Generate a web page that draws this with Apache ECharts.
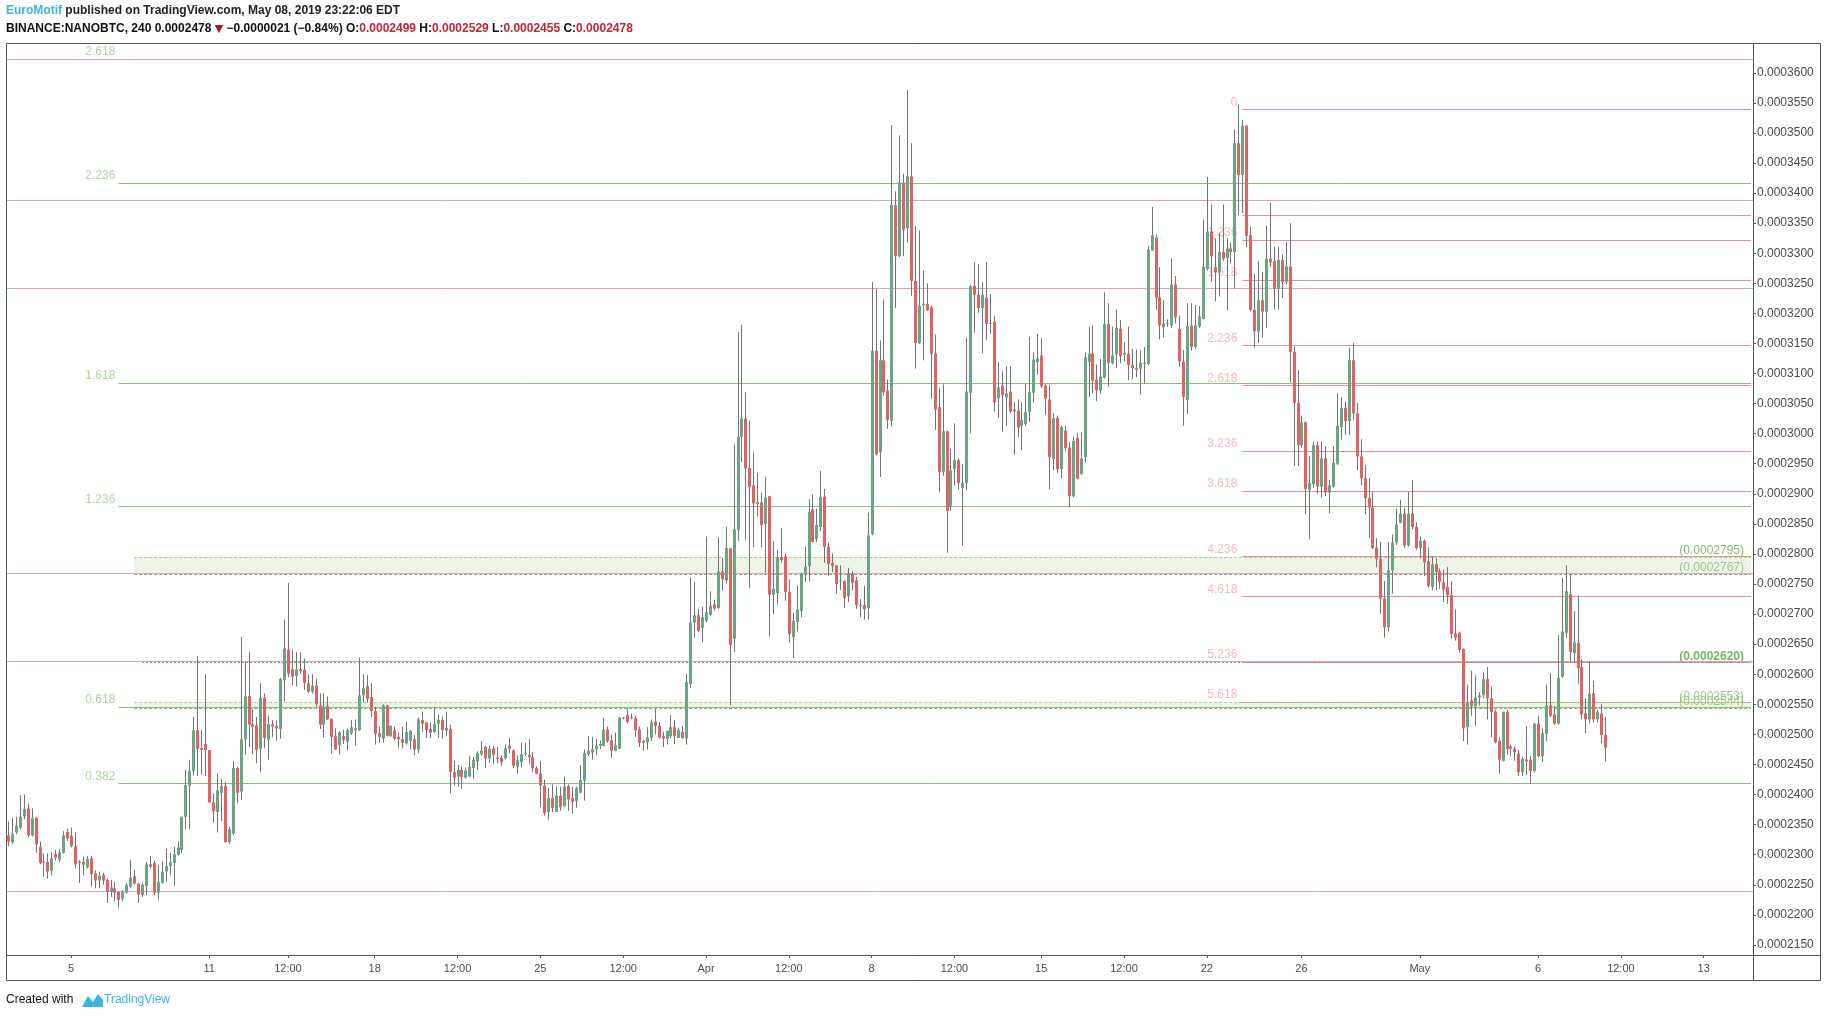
<!DOCTYPE html>
<html>
<head>
<meta charset="utf-8">
<title>BINANCE:NANOBTC, 240</title>
<script src="https://cdn.jsdelivr.net/npm/echarts@6/dist/echarts.min.js"></script>
<style>
  html, body { margin: 0; padding: 0; background: #fff; }
  #chart { width: 1828px; height: 1018px; }
</style>
</head>
<body>
<div id="chart"></div>
<script>
// 价格单位: 1e-7 BTC (2478 = 0.0002478)
// 每根K线: [open, high, low, close], 4小时
const ohlc = [
  [2332,2355,2314,2322],[2320,2361,2318,2335],[2337,2363,2334,2348],[2345,2399,2342,2363],[2364,2400,2359,2376],[2377,2385,2329,2332],
  [2332,2377,2330,2361],[2361,2363,2303,2317],[2313,2322,2284,2286],[2289,2302,2263,2287],[2288,2302,2260,2272],[2273,2304,2266,2294],
  [2301,2308,2290,2295],[2292,2309,2288,2304],[2303,2339,2302,2332],[2338,2343,2323,2327],[2331,2345,2312,2314],[2314,2338,2277,2284],
  [2287,2291,2253,2288],[2288,2297,2266,2283],[2279,2298,2277,2293],[2294,2298,2247,2268],[2269,2274,2244,2257],[2257,2272,2244,2265],
  [2266,2270,2250,2257],[2258,2261,2220,2238],[2238,2258,2230,2246],[2244,2255,2222,2237],[2238,2239,2212,2225],[2227,2241,2222,2238],
  [2237,2253,2235,2250],[2247,2291,2244,2262],[2264,2274,2250,2252],[2252,2253,2220,2234],[2233,2253,2230,2250],[2248,2288,2233,2284],
  [2284,2298,2277,2280],[2286,2290,2233,2237],[2237,2283,2225,2254],[2253,2289,2252,2272],[2272,2310,2255,2281],[2281,2303,2266,2287],
  [2286,2313,2248,2301],[2300,2322,2298,2312],[2308,2363,2303,2363],[2363,2441,2343,2416],[2415,2457,2343,2439],[2439,2529,2432,2507],
  [2507,2630,2431,2476],[2477,2507,2433,2474],[2484,2600,2431,2474],[2474,2474,2386,2387],[2387,2402,2353,2372],[2371,2435,2337,2407],
  [2403,2426,2356,2414],[2414,2421,2320,2321],[2321,2346,2318,2342],[2335,2456,2332,2444],[2444,2446,2386,2403],[2405,2662,2391,2492],
  [2492,2621,2466,2563],[2564,2637,2479,2516],[2517,2542,2467,2513],[2515,2529,2452,2474],[2476,2585,2437,2561],[2561,2568,2477,2494],
  [2491,2531,2458,2517],[2517,2524,2495,2513],[2514,2523,2490,2510],[2509,2594,2493,2592],[2590,2691,2555,2643],[2641,2752,2595,2601],
  [2608,2641,2582,2596],[2597,2637,2580,2608],[2608,2636,2601,2605],[2607,2626,2574,2586],[2585,2600,2569,2571],[2571,2600,2568,2581],
  [2581,2592,2546,2550],[2548,2568,2509,2516],[2516,2568,2495,2546],[2547,2563,2524,2525],[2526,2526,2468,2496],[2497,2510,2474,2475],
  [2482,2506,2466,2503],[2497,2508,2484,2491],[2488,2510,2473,2507],[2502,2524,2499,2512],[2510,2525,2481,2507],[2507,2628,2506,2565],
  [2565,2600,2553,2577],[2580,2598,2553,2559],[2562,2585,2529,2539],[2539,2546,2483,2501],[2502,2513,2486,2496],[2493,2550,2486,2548],
  [2548,2549,2496,2498],[2497,2515,2496,2514],[2507,2513,2490,2493],[2496,2503,2478,2492],
  [2492,2512,2477,2486],[2485,2521,2483,2504],[2489,2507,2475,2506],[2492,2499,2465,2475],[2475,2528,2469,2525],[2524,2538,2504,2518],
  [2520,2520,2494,2507],[2509,2520,2494,2503],[2504,2545,2502,2517],[2518,2533,2494,2524],[2524,2530,2493,2507],[2506,2538,2497,2511],
  [2509,2516,2402,2438],[2437,2456,2415,2428],[2430,2449,2413,2441],[2441,2447,2410,2429],[2428,2445,2427,2440],[2430,2464,2429,2446],
  [2444,2462,2426,2458],[2455,2472,2441,2469],[2467,2489,2464,2473],[2479,2481,2444,2460],[2460,2481,2453,2476],[2477,2481,2451,2466],
  [2461,2479,2452,2459],[2461,2465,2448,2454],[2460,2483,2458,2477],[2481,2494,2469,2476],[2473,2475,2444,2448],[2446,2465,2435,2457],
  [2454,2486,2445,2467],[2468,2486,2464,2469],[2466,2492,2451,2462],[2462,2470,2437,2444],[2444,2447,2434,2435],[2435,2456,2379,2415],
  [2415,2425,2365,2369],[2371,2411,2358,2394],[2394,2417,2371,2378],[2371,2413,2371,2398],[2398,2413,2373,2379],[2381,2430,2379,2413],
  [2414,2417,2373,2392],[2394,2413,2368,2388],[2389,2413,2378,2411],[2403,2449,2402,2424],[2423,2475,2390,2469],[2467,2497,2464,2473],
  [2470,2496,2458,2476],[2476,2492,2465,2481],[2481,2490,2476,2484],[2481,2527,2480,2508],[2508,2513,2486,2489],[2490,2500,2461,2473],
  [2473,2503,2472,2482],[2476,2529,2476,2528],[2527,2529,2525,2528],[2532,2543,2518,2521],[2527,2535,2525,2528],[2527,2531,2496,2507],
  [2508,2513,2479,2486],[2486,2491,2473,2489],[2487,2512,2475,2495],[2494,2525,2489,2520],[2521,2542,2500,2514],[2514,2520,2493,2495],
  [2497,2504,2479,2493],[2492,2506,2483,2506],[2497,2532,2494,2512],[2512,2524,2484,2497],[2494,2511,2494,2507],[2504,2514,2493,2494],
  [2493,2601,2483,2587],[2584,2761,2577,2686],[2686,2754,2661,2698],[2698,2709,2670,2672],[2677,2712,2653,2695],[2689,2829,2686,2703],
  [2699,2738,2697,2714],[2716,2724,2706,2709],[2710,2828,2709,2771],[2771,2793,2739,2758],[2756,2845,2751,2810],[2809,2810,2548,2649],
  [2659,2982,2637,2841],[2840,3169,2822,2995],[2995,3181,2953,3025],[3025,3069,2823,2942],[2943,3022,2743,2911],[2914,2969,2811,2884],
  [2883,2935,2862,2886],[2886,2902,2811,2848],[2850,2928,2769,2894],[2896,2896,2663,2732],[2732,2821,2700,2742],[2735,2806,2716,2795],
  [2795,2843,2786,2790],[2796,2801,2722,2737],[2737,2758,2653,2667],
  [2662,2702,2627,2689],[2687,2748,2671,2708],[2705,2769,2695,2767],[2767,2812,2754,2779],[2780,2891,2755,2870],[2874,2899,2819,2820],
  [2825,2875,2820,2848],[2845,2938,2838,2895],[2895,2908,2785,2812],[2812,2819,2764,2783],[2785,2801,2770,2780],[2781,2781,2734,2750],
  [2755,2781,2740,2756],[2755,2756,2710,2727],[2730,2777,2720,2767],[2767,2771,2739,2752],[2756,2762,2709,2715],[2715,2725,2695,2713],
  [2715,2747,2691,2708],[2710,2869,2691,2831],
  [2833,3252,2831,3138],[3138,3240,2964,2966],[2969,3155,2928,3122],[3122,3223,3063,3069],[3072,3090,3008,3023],[3021,3513,3012,3380],
  [3380,3403,3209,3295],[3295,3496,3293,3418],[3417,3432,3295,3339],[3342,3571,3318,3428],[3428,3483,3229,3254],[3254,3345,3108,3151],
  [3151,3338,3149,3213],[3214,3271,3122,3216],[3216,3250,3204,3205],[3210,3213,3058,3133],[3133,3165,3006,3040],[3044,3076,2903,2936],
  [2936,3082,2930,3004],[3004,3005,2802,2872],[2878,2975,2872,2939],[2941,3017,2914,2956],[2956,2959,2907,2918],[2910,2950,2814,2918],
  [2918,3160,2907,3070],[3068,3248,3001,3245],[3246,3285,3168,3231],[3231,3282,3201,3209],[3209,3252,3134,3231],[3226,3285,3156,3183],
  [3183,3232,3166,3184],[3186,3196,3037,3052],[3059,3119,3026,3077],[3080,3104,3003,3064],[3060,3112,3013,3067],[3070,3112,3034,3037],
  [3040,3052,2965,3037],[3038,3057,2994,3010],[3013,3052,2973,3023],[3016,3083,3013,3036],[3036,3161,3020,3069],[3068,3135,3052,3123],
  [3119,3166,3098,3125],[3130,3159,3076,3079],[3080,3082,3031,3058],[3057,3081,2908,2961],[2958,3034,2939,3026],[3026,3030,2935,2941],
  [2941,3014,2926,3011],[3005,3013,2971,2976],[2977,2986,2878,2896],[2896,2995,2894,2988],[2993,3001,2924,2925],[2933,3002,2932,2959],
  [2961,3135,2952,3127],[3119,3178,3061,3133],[3133,3180,3067,3088],[3090,3115,3054,3072],[3072,3124,3066,3095],[3093,3235,3092,3182],
  [3182,3217,3078,3118],[3117,3178,3115,3130],[3132,3207,3109,3176],[3174,3189,3117,3129],[3132,3152,3120,3134],[3133,3178,3089,3114],
  [3114,3141,3091,3109],[3109,3140,3094,3106],[3108,3139,3065,3118],[3118,3144,3083,3117],[3116,3312,3114,3306],[3305,3377,3304,3330],
  [3326,3331,3206,3226],
  [3227,3277,3157,3180],[3177,3222,3160,3183],[3183,3190,3178,3184],[3180,3291,3176,3248],[3248,3262,3183,3193],[3174,3196,3111,3120],
  [3120,3139,3013,3061],[3056,3217,3033,3179],[3180,3217,3138,3144],[3144,3214,3141,3180],[3178,3212,3176,3195],[3191,3356,3190,3278],
  [3274,3427,3271,3336],[3336,3381,3252,3295],[3277,3325,3220,3268],[3268,3334,3228,3302],[3302,3381,3287,3291],[3292,3325,3205,3308],
  [3308,3317,3283,3302],[3302,3506,3241,3483],[3483,3547,3363,3430],[3430,3522,3367,3512],[3512,3513,3310,3329],[3330,3344,3203,3206],
  [3206,3266,3143,3170],[3170,3287,3151,3222],[3222,3269,3160,3203],[3203,3346,3176,3291],[3291,3384,3277,3285],[3287,3311,3206,3241],
  [3241,3310,3206,3289],[3289,3298,3226,3252],[3252,3319,3248,3278],[3278,3350,3085,3136],[3136,3145,2946,3051],[3051,3105,2946,2981],
  [2981,3030,2977,3019],[3019,3020,2866,2908],[2906,2963,2824,2918],[2916,2987,2910,2981],[2981,2987,2900,2912],[2912,2987,2894,2959],
  [2959,2979,2896,2902],[2902,2923,2868,2914],[2912,2979,2910,2952],[2950,3067,2948,3013],[3011,3061,2990,3043],[3043,3053,2998,3021],
  [3021,3143,2998,3122],[3122,3151,3023,3034],[3034,3051,2939,2962],[2962,2991,2914,2926],[2926,2948,2866,2893],[2893,2926,2826,2877],
  [2877,2903,2808,2810],[2810,2826,2778,2792],[2792,2820,2701,2726],[2726,2755,2661,2678],[2678,2820,2671,2773],[2773,2832,2734,2819],
  [2819,2875,2815,2849],[2852,2890,2851,2867],[2867,2877,2810,2814],[2814,2903,2812,2867],[2867,2923,2841,2845],[2845,2853,2807,2810],
  [2810,2829,2793,2822],[2822,2824,2763,2786],[2788,2811,2744,2747],[2745,2796,2740,2783],[2783,2793,2740,2770],[2771,2776,2742,2753],
  [2753,2774,2720,2741],[2745,2778,2717,2731],[2732,2755,2659,2667],[2668,2708,2656,2661],[2669,2671,2636,2640],[2642,2643,2489,2510],
  [2512,2583,2483,2554],[2556,2606,2531,2547],[2547,2598,2514,2561],[2561,2570,2548,2565],[2565,2603,2560,2592],[2592,2612,2525,2560],
  [2560,2579,2495,2537],[2538,2541,2485,2487],[2489,2495,2435,2458],[2456,2538,2455,2537],[2537,2541,2466,2476],[2480,2483,2464,2476],
  [2476,2480,2456,2470],[2468,2474,2431,2437],[2437,2463,2431,2459],[2458,2514,2433,2455],[2458,2464,2418,2439],[2439,2519,2437,2518],
  [2518,2531,2462,2464],[2464,2510,2454,2502],[2501,2583,2489,2548],[2548,2602,2529,2531],[2533,2547,2516,2518],[2518,2665,2516,2594],
  [2596,2760,2594,2671],[2669,2781,2660,2738],[2733,2767,2621,2637],[2635,2705,2621,2653],[2652,2731,2584,2610],[2612,2625,2525,2533],
  [2535,2560,2502,2525],[2525,2621,2518,2568],[2568,2589,2520,2525],[2525,2541,2520,2537],[2535,2551,2485,2499],[2499,2529,2455,2478]
];

// 时间轴刻度: [K线序号, 文字]
const xTicks = [
  [16, '5'], [51, '11'], [71, '12:00'], [93, '18'], [114, '12:00'], [135, '25'], [156, '12:00'],
  [177, 'Apr'], [198, '12:00'], [219, '8'], [240, '12:00'], [262, '15'], [283, '12:00'], [304, '22'],
  [328, '26'], [358, 'May'], [388, '6'], [409, '12:00'], [430, '13']
];

// 价格轴刻度
const priceTicks = [
  2150, 2200, 2250, 2300, 2350, 2400, 2450, 2500, 2550, 2600, 2650, 2700, 2750, 2800, 2850,
  2900, 2950, 3000, 3050, 3100, 3150, 3200, 3250, 3300, 3350, 3400, 3450, 3500, 3550, 3600
];

// 左侧斐波那契扩展 (绿色)
const fibGreen = [
  ['0.382', 2418.5], ['0.618', 2545.6], ['1.236', 2878.5],
  ['1.618', 3084.3], ['2.236', 3417.2], ['2.618', 3623.0]
];
// 右侧斐波那契扩展 (红色)
const fibRed = [
  ['0', 3539], ['1', 3363.6], ['1.236', 3322.2], ['1.618', 3255.2], ['2.236', 3146.8], ['2.618', 3079.8],
  ['3.236', 2971.4], ['3.618', 2904.4], ['4.236', 2796.0], ['4.618', 2729.0], ['5.236', 2620.6], ['5.618', 2553.6]
];
// 水平线 (粉色, 全宽)
const pinkLevels = [3623.3, 3387.3, 3241.1, 2767.5, 2622.3, 2239.6];
// 区间 [上, 下]
const zones = [[2795, 2767], [2553, 2544]];
const rayLevel = 2620;
// 右侧价格标签
const priceTags = [
  [2795, '(0.0002795)'], [2767, '(0.0002767)'], [2620, '(0.0002620)'],
  [2553, '(0.0002553)'], [2544, '(0.0002544)']
];

const NBARS = 443;
const t0 = Date.UTC(2019, 2, 2, 8);
const cats = [];
for (let i = 0; i < NBARS; i++) {
  cats.push(new Date(t0 + i * 4 * 3600e3).toISOString().slice(0, 16).replace('T', ' '));
}
const last = cats[NBARS - 1];
const greenStart = cats[28];
const redStart = cats[313];
const zoneStart = cats[32];
const rayStart = cats[34];

const UP = '#6ba583';
const DOWN = '#e06262';
const WICK = '#737375';
const GREEN_LINE = '#8cc078';
const GREEN_TEXT = '#9acb85';
const PINK_LINE = '#d9a2c4';
const RED_LINE = '#ec8e8e';
const RED_TEXT = '#f2a8a8';

const tickMap = {};
xTicks.forEach(([i, t]) => { tickMap[i] = t; });
const isTick = (idx) => tickMap[idx] !== undefined;

const rows = ohlc.map((r, i) => [i, r[0], r[1], r[2], r[3]]);

// 标记线: 先画斐波那契, 再画粉色水平线, 最后画区间边线
const lines = [];
fibGreen.forEach(([, v]) => lines.push([
  { coord: [greenStart, v], lineStyle: { color: GREEN_LINE, width: 1, type: 'solid' } },
  { coord: [last, v] }
]));
fibRed.forEach(([, v]) => lines.push([
  { coord: [redStart, v], lineStyle: { color: RED_LINE, width: 1, type: 'solid' } },
  { coord: [last, v] }
]));
pinkLevels.forEach(v => lines.push({ yAxis: v, lineStyle: { color: PINK_LINE, width: 1, type: 'solid' } }));
lines.push([
  { coord: [zoneStart, zones[0][0]], lineStyle: { color: '#a7cf90', width: 1, type: [3, 2] } },
  { coord: [last, zones[0][0]] }
]);
lines.push([
  { coord: [zoneStart, zones[0][1]], lineStyle: { color: '#9b9a86', width: 1, type: [3, 2] } },
  { coord: [last, zones[0][1]] }
]);
lines.push([
  { coord: [rayStart, rayLevel], lineStyle: { color: '#8c9a80', width: 1, type: [2, 2] } },
  { coord: [last, rayLevel] }
]);
lines.push([
  { coord: [zoneStart, zones[1][0]], lineStyle: { color: '#a7cf90', width: 1, type: [3, 2] } },
  { coord: [last, zones[1][0]] }
]);
lines.push([
  { coord: [zoneStart, zones[1][1]], lineStyle: { color: '#7fb86a', width: 1, type: [3, 2] } },
  { coord: [last, zones[1][1]] }
]);

const areas = zones.map(([top, bottom]) => [
  { coord: [zoneStart, top], itemStyle: { color: 'rgba(225,238,216,0.6)' } },
  { coord: [last, bottom] }
]);

// 文字标签
const labelData = [];
fibGreen.forEach(([t, v]) => labelData.push({
  value: [greenStart, v],
  label: { formatter: t, color: GREEN_TEXT, position: 'left', distance: 3, offset: [0, -7] }
}));
fibRed.forEach(([t, v]) => labelData.push({
  value: [redStart, v],
  label: { formatter: t, color: RED_TEXT, position: 'left', distance: 5, offset: [0, -7] }
}));
priceTags.forEach(([v, t], k) => labelData.push({
  value: [last, v],
  label: {
    formatter: t, position: 'left', distance: 7, offset: [0, -6], fontSize: 12,
    fontWeight: k === 2 ? 'bold' : 'normal',
    color: k === 2 ? '#55a040' : (k === 0 ? '#64a84a' : '#82bd6c')
  }
}));

const chart = echarts.init(document.getElementById('chart'));

const option = {
  animation: false,
  backgroundColor: '#ffffff',
  textStyle: { fontFamily: 'Liberation Sans' },
  title: [
    {
      left: 6, top: 5, padding: 0,
      text: '{a|EuroMotif}{b| published on TradingView.com, May 08, 2019 23:22:06 EDT}',
      textStyle: {
        rich: {
          a: { color: '#3bb3e4', fontSize: 12, fontFamily: 'Liberation Sans' },
          b: { color: '#222', fontSize: 12, fontFamily: 'Liberation Sans' }
        }
      }
    },
    {
      left: 6, top: 23, padding: 0,
      text: '{b|BINANCE:NANOBTC, 240}{n| 0.0002478 }{t|▼}{n| −0.0000021 (−0.84%) }{b|O:}{r|0.0002499}{b| H:}{r|0.0002529}{b| L:}{r|0.0002455}{b| C:}{r|0.0002478}',
      textStyle: {
        rich: {
          b: { color: '#111', fontSize: 12, fontWeight: 'bold', fontFamily: 'Liberation Sans' },
          n: { color: '#111', fontSize: 12, fontFamily: 'Liberation Sans' },
          r: { color: '#c62631', fontSize: 12, fontFamily: 'Liberation Sans' },
          t: { color: '#a8171f', fontSize: 11, fontFamily: 'DejaVu Sans' }
        }
      }
    },
    {
      left: 6, top: 994, padding: 0,
      text: 'Created with',
      textStyle: { color: '#111', fontSize: 12, fontWeight: 'normal', fontFamily: 'Liberation Sans' }
    },
    {
      left: 104, top: 994, padding: 0,
      text: 'TradingView',
      textStyle: { color: '#3bb3e4', fontSize: 12, fontWeight: 'normal', fontFamily: 'Liberation Sans' }
    }
  ],
  grid: { left: 6, right: 75, top: 44, bottom: 63 },
  xAxis: {
    type: 'category',
    data: cats,
    boundaryGap: true,
    axisLine: { show: false },
    axisTick: {
      show: true, interval: isTick, alignWithLabel: true, length: 3,
      lineStyle: { color: '#555' }
    },
    axisLabel: {
      interval: isTick,
      formatter: (val, idx) => tickMap[idx] || '',
      margin: 8, color: '#4a4a4a', fontSize: 11, fontFamily: 'Liberation Sans'
    },
    splitLine: { show: false }
  },
  yAxis: {
    type: 'value',
    position: 'right',
    min: 2133.2,
    max: 3647.9,
    scale: true,
    axisLine: { show: false },
    axisTick: {
      show: true, length: 3, customValues: priceTicks,
      lineStyle: { color: '#555' }
    },
    axisLabel: {
      customValues: priceTicks,
      formatter: v => (v / 1e7).toFixed(7),
      margin: 4, color: '#4a4a4a', fontSize: 12, fontFamily: 'Liberation Sans'
    },
    splitLine: { show: false }
  },
  series: [
    {
      name: 'drawings',
      type: 'scatter',
      z: 1,
      silent: true,
      symbolSize: 0,
      data: labelData,
      label: { show: true, fontSize: 12, fontFamily: 'Liberation Sans' },
      emphasis: { disabled: true },
      markArea: { silent: true, data: areas },
      markLine: {
        silent: true,
        symbol: ['none', 'none'],
        label: { show: false },
        emphasis: { disabled: true },
        data: lines
      }
    },
    {
      name: 'NANOBTC',
      type: 'custom',
      z: 5,
      silent: true,
      data: rows,
      encode: { x: 0, y: [1, 2, 3, 4] },
      renderItem: (params, api) => {
        const i = api.value(0);
        const o = api.value(1), h = api.value(2), l = api.value(3), c = api.value(4);
        const pO = api.coord([i, o]);
        const pC = api.coord([i, c]);
        const pH = api.coord([i, h]);
        const pL = api.coord([i, l]);
        const x = Math.round(pO[0]);
        const top = Math.min(pO[1], pC[1]);
        const hgt = Math.max(1, Math.abs(pO[1] - pC[1]));
        return {
          type: 'group',
          children: [
            {
              type: 'line',
              shape: { x1: x + 0.5, y1: pH[1], x2: x + 0.5, y2: pL[1] },
              style: { stroke: WICK, lineWidth: 1 }
            },
            {
              type: 'rect',
              shape: { x: x - 1, y: top, width: 3, height: hgt },
              style: { fill: c >= o ? UP : DOWN }
            }
          ]
        };
      }
    }
  ],
  graphic: [
    {
      type: 'rect', z: 100, silent: true,
      shape: { x: 6.5, y: 43.5, width: 1814, height: 937 },
      style: { fill: null, stroke: '#555', lineWidth: 1 }
    },
    {
      type: 'line', z: 100, silent: true,
      shape: { x1: 1753.5, y1: 43.5, x2: 1753.5, y2: 980.5 },
      style: { stroke: '#555', lineWidth: 1 }
    },
    {
      type: 'line', z: 100, silent: true,
      shape: { x1: 6.5, y1: 955.5, x2: 1820.5, y2: 955.5 },
      style: { stroke: '#555', lineWidth: 1 }
    },
    {
      // TradingView 图标
      type: 'polygon', z: 100, silent: true,
      shape: { points: [[82, 1007], [88, 996], [93, 1002], [98, 994], [103, 1000], [103, 1007]] },
      style: { fill: '#3bb3e4' }
    }
  ]
};

chart.setOption(option);
</script>
</body>
</html>
